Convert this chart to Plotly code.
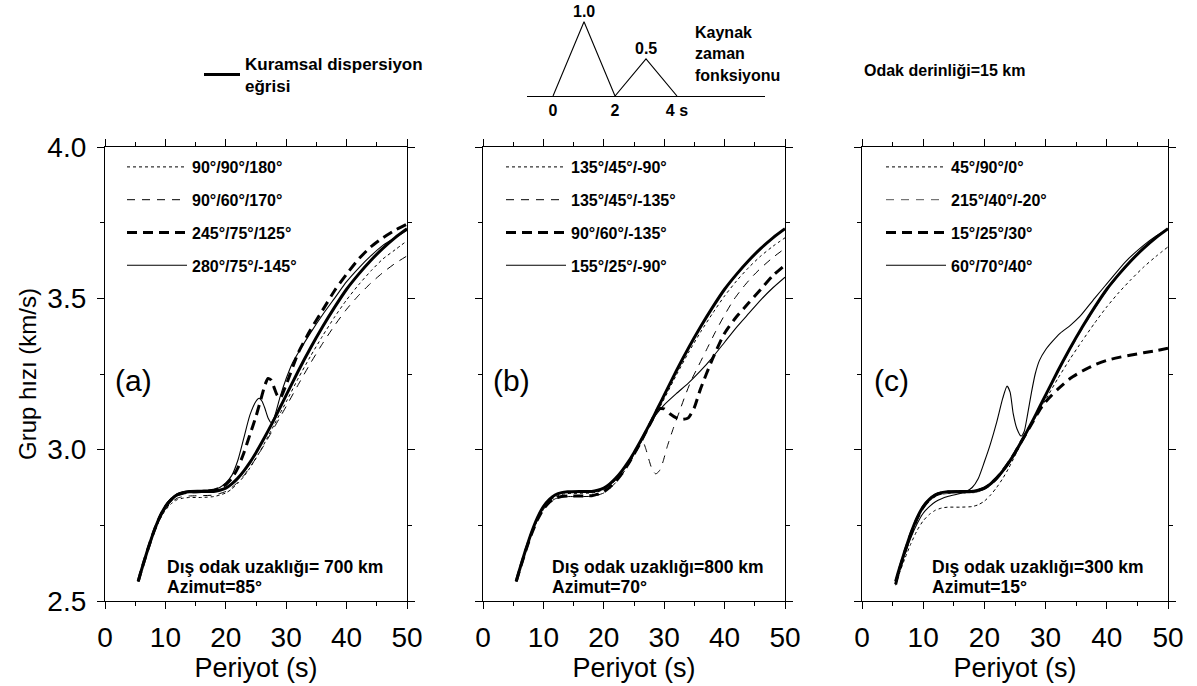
import plotly.graph_objects as go

# ---------------------------------------------------------------
# Kuramsal dispersiyon eğrisi (odak derinliği 15 km), period in s
# ---------------------------------------------------------------
ref_period = [5.5, 6, 7, 8, 9, 10, 11, 12, 13, 14, 16, 18, 19, 20, 21, 22, 23, 24, 25,
              26, 27, 28, 29, 30, 32, 34, 36, 38, 40, 42, 44, 46, 48, 50]
ref_velocity = [2.565, 2.60, 2.665, 2.725, 2.775, 2.812, 2.836, 2.851, 2.858, 2.861, 2.862,
                2.862, 2.866, 2.873, 2.887, 2.906, 2.93, 2.958, 2.99, 3.025, 3.062, 3.10,
                3.14, 3.18, 3.26, 3.335, 3.405, 3.47, 3.53, 3.58, 3.625, 3.665, 3.70, 3.73]

# ---------------- (a) 700 km, azimut 85° ----------------
a_names = ["90°/90°/180°", "90°/60°/170°", "245°/75°/125°", "280°/75°/-145°"]
a1_period = ref_period
a1_velocity = [2.565, 2.598, 2.66, 2.718, 2.766, 2.80, 2.822, 2.835, 2.84, 2.842, 2.842,
               2.845, 2.85, 2.857, 2.87, 2.889, 2.912, 2.94, 2.972, 3.006, 3.044, 3.082,
               3.12, 3.158, 3.236, 3.308, 3.375, 3.438, 3.495, 3.545, 3.59, 3.63, 3.66, 3.69]
a2_period = ref_period
a2_velocity = [2.565, 2.598, 2.662, 2.72, 2.768, 2.803, 2.826, 2.84, 2.845, 2.847, 2.848,
               2.85, 2.855, 2.862, 2.875, 2.893, 2.915, 2.942, 2.972, 3.004, 3.038, 3.073,
               3.108, 3.143, 3.215, 3.285, 3.35, 3.41, 3.464, 3.51, 3.55, 3.585, 3.615, 3.64]
a3_period = [5.5, 6, 7, 8, 9, 10, 11, 12, 13, 14, 16, 18, 19, 20, 21, 22, 23, 24, 25, 26,
             26.5, 27, 27.5, 28, 28.5, 29, 30, 32, 34, 36, 38, 40, 42, 44, 46, 48, 50]
a3_velocity = [2.565, 2.60, 2.665, 2.725, 2.775, 2.812, 2.836, 2.851, 2.857, 2.86, 2.862,
               2.866, 2.873, 2.885, 2.905, 2.94, 2.99, 3.05, 3.11, 3.18, 3.215, 3.235, 3.23,
               3.205, 3.18, 3.17, 3.215, 3.32, 3.395, 3.46, 3.525, 3.58, 3.63, 3.67, 3.70,
               3.725, 3.745]
a4_period = [5.5, 6, 7, 8, 9, 10, 11, 12, 13, 14, 16, 18, 19, 20, 21, 22, 23, 24, 25, 25.5,
             26, 26.5, 27, 27.5, 28, 29, 30, 31, 32, 34, 36, 38, 40, 42, 44, 46, 48, 50]
a4_velocity = [2.565, 2.602, 2.668, 2.728, 2.778, 2.815, 2.84, 2.855, 2.862, 2.865, 2.866,
               2.868, 2.875, 2.89, 2.915, 2.965, 3.04, 3.115, 3.16, 3.17, 3.16, 3.135, 3.105,
               3.09, 3.105, 3.175, 3.235, 3.285, 3.32, 3.385, 3.445, 3.50, 3.555, 3.60, 3.64,
               3.675, 3.70, 3.725]

# ---------------- (b) 800 km, azimut 70° ----------------
b_names = ["135°/45°/-90°", "135°/45°/-135°", "90°/60°/-135°", "155°/25°/-90°"]
b1_period = ref_period
b1_velocity = [2.565, 2.598, 2.662, 2.72, 2.77, 2.806, 2.83, 2.845, 2.852, 2.855, 2.856,
               2.857, 2.861, 2.868, 2.882, 2.90, 2.924, 2.952, 2.984, 3.018, 3.055, 3.092,
               3.13, 3.168, 3.246, 3.32, 3.388, 3.45, 3.508, 3.558, 3.602, 3.64, 3.672, 3.70]
b2_period = [5.5, 6, 7, 8, 9, 10, 11, 12, 13, 14, 16, 18, 19, 20, 21, 22, 23, 24, 25, 26,
             26.5, 27, 27.5, 28, 28.6, 29.2, 29.8, 30.5, 31.5, 32.5, 33.5, 34.5, 35.5, 37,
             38.5, 40, 41.5, 43, 44.5, 46, 48, 50]
b2_velocity = [2.565, 2.598, 2.66, 2.718, 2.766, 2.802, 2.825, 2.838, 2.843, 2.845, 2.845,
               2.846, 2.85, 2.857, 2.872, 2.892, 2.917, 2.947, 2.98, 3.015, 3.025, 3.0,
               2.965, 2.935, 2.92, 2.93, 2.96, 3.01, 3.07, 3.125, 3.18, 3.23, 3.27, 3.33,
               3.39, 3.445, 3.495, 3.535, 3.57, 3.60, 3.635, 3.665]
b3_period = [5.5, 6, 7, 8, 9, 10, 11, 12, 13, 14, 16, 18, 19, 20, 21, 22, 23, 24, 25, 26,
             27, 28, 29, 30, 31, 32, 33, 34, 35, 36, 38, 40, 42, 44, 46, 48, 50]
b3_velocity = [2.565, 2.598, 2.662, 2.72, 2.768, 2.804, 2.827, 2.84, 2.845, 2.847, 2.847,
               2.848, 2.853, 2.861, 2.876, 2.896, 2.921, 2.951, 2.985, 3.021, 3.06, 3.098,
               3.135, 3.135, 3.118, 3.105, 3.10, 3.105, 3.14, 3.20, 3.30, 3.385, 3.44,
               3.485, 3.53, 3.575, 3.61]
b4_period = ref_period
b4_velocity = [2.565, 2.60, 2.665, 2.725, 2.775, 2.812, 2.836, 2.851, 2.858, 2.861, 2.862,
               2.862, 2.866, 2.873, 2.887, 2.906, 2.93, 2.958, 2.99, 3.025, 3.062, 3.098,
               3.125, 3.148, 3.185, 3.22, 3.26, 3.305, 3.355, 3.405, 3.45, 3.495, 3.535, 3.57]

# ---------------- (c) 300 km, azimut 15° ----------------
c_names = ["45°/90°/0°", "215°/40°/-20°", "15°/25°/30°", "60°/70°/40°"]
c1_period = ref_period
c1_velocity = [2.552, 2.585, 2.64, 2.69, 2.733, 2.765, 2.786, 2.80, 2.807, 2.81, 2.81,
               2.812, 2.818, 2.83, 2.85, 2.875, 2.905, 2.94, 2.98, 3.02, 3.058, 3.095, 3.13,
               3.165, 3.235, 3.30, 3.36, 3.418, 3.472, 3.52, 3.563, 3.603, 3.638, 3.67]
c2_period = ref_period
c2_velocity = [2.558, 2.594, 2.66, 2.72, 2.77, 2.806, 2.83, 2.845, 2.852, 2.855, 2.856,
               2.857, 2.861, 2.868, 2.882, 2.901, 2.925, 2.953, 2.985, 3.02, 3.057, 3.095,
               3.135, 3.175, 3.255, 3.33, 3.40, 3.465, 3.525, 3.576, 3.622, 3.662, 3.698, 3.728]
c3_period = [5.5, 6, 7, 8, 9, 10, 11, 12, 13, 14, 16, 18, 19, 20, 21, 22, 23, 24, 25, 26,
             27, 28, 29, 30, 31, 32, 34, 36, 38, 40, 42, 44, 46, 48, 50]
c3_velocity = [2.555, 2.595, 2.662, 2.722, 2.772, 2.81, 2.834, 2.85, 2.857, 2.86, 2.861,
               2.862, 2.866, 2.873, 2.887, 2.906, 2.93, 2.958, 2.99, 3.025, 3.06, 3.095,
               3.13, 3.158, 3.18, 3.20, 3.235, 3.26, 3.28, 3.295, 3.305, 3.313, 3.32, 3.327,
               3.335]
c4_period = [5.5, 6, 7, 8, 9, 10, 11, 12, 13, 14, 16, 17, 18, 19, 20, 21, 22, 23, 23.7,
             24.2, 24.7, 25.3, 26, 26.5, 27, 27.7, 28.3, 29, 30, 31, 32.4, 34, 35.6, 38,
             40.5, 43, 46, 48, 50]
c4_velocity = [2.555, 2.59, 2.655, 2.71, 2.755, 2.79, 2.812, 2.828, 2.838, 2.845, 2.855,
               2.862, 2.875, 2.905, 2.96, 3.02, 3.09, 3.17, 3.21, 3.19, 3.12, 3.07, 3.045,
               3.06, 3.11, 3.19, 3.25, 3.295, 3.33, 3.355, 3.385, 3.41, 3.44, 3.50, 3.56,
               3.62, 3.675, 3.705, 3.73]

panel_tags = ["(a)", "(b)", "(c)"]
panel_distance_text = ["Dış odak uzaklığı= 700 km", "Dış odak uzaklığı=800 km",
                       "Dış odak uzaklığı=300 km"]
panel_azimuth = [85, 70, 15]

# Kaynak zaman fonksiyonu
source_time = [0, 1, 2, 3, 4]
source_amplitude = [0.0, 1.0, 0.0, 0.5, 0.0]
source_ticks = [0, 2, 4]
source_tick_text = ["0", "2", "4 s"]
source_caption = ["Kaynak", "zaman", "fonksiyonu"]

FONT = "Arial, Liberation Sans, sans-serif"

# line styles for the four mechanisms of each panel
styles = [
    dict(color="black", width=1.0, dash="3px,3px"),
    dict(color="black", width=1.0, dash="8px,7px"),
    dict(color="black", width=3.0, dash="10px,6px"),
    dict(color="black", width=1.1),
]
c_styles = [
    dict(color="black", width=1.0, dash="3px,3px"),
    dict(color="#555555", width=1.0, dash="8px,7px"),
    dict(color="black", width=3.0, dash="10px,6px"),
    dict(color="black", width=1.1),
]

panels = [
    ("x", "y", "legend", a_names,
     [(a1_period, a1_velocity), (a2_period, a2_velocity),
      (a3_period, a3_velocity), (a4_period, a4_velocity)], styles),
    ("x2", "y2", "legend2", b_names,
     [(b1_period, b1_velocity), (b2_period, b2_velocity),
      (b3_period, b3_velocity), (b4_period, b4_velocity)], styles),
    ("x3", "y3", "legend3", c_names,
     [(c1_period, c1_velocity), (c2_period, c2_velocity),
      (c3_period, c3_velocity), (c4_period, c4_velocity)], c_styles),
]

fig = go.Figure()

for p, (xa, ya, leg, names, curves, stl) in enumerate(panels):
    for k, ((per, vel), name) in enumerate(zip(curves, names)):
        fig.add_trace(go.Scatter(
            x=per, y=vel, mode="lines", name=name,
            line=dict(shape="spline", smoothing=0.6, **stl[k]),
            xaxis=xa, yaxis=ya, legend=leg, legendgroup=f"{leg}_{k}",
            showlegend=True,
        ))
    # theoretical dispersion curve, listed once in the top legend
    fig.add_trace(go.Scatter(
        x=ref_period, y=ref_velocity, mode="lines",
        name="Kuramsal dispersiyon<br>eğrisi",
        line=dict(color="black", width=3.0, shape="spline", smoothing=0.6),
        xaxis=xa, yaxis=ya, legend="legend4", showlegend=(p == 0),
    ))

# source time function
fig.add_trace(go.Scatter(
    x=source_time, y=source_amplitude, mode="lines",
    line=dict(color="black", width=1.1), xaxis="x4", yaxis="y4", showlegend=False,
))

W, H = 1197, 686
y_dom = [1 - 601 / H, 1 - 147 / H]
x_doms = [[105 / W, 407 / W], [483 / W, 785 / W], [862 / W, 1168 / W]]

axis_common = dict(
    showline=True, linecolor="black", linewidth=1.3, mirror="ticks",
    ticks="outside", ticklen=7, tickwidth=1.2, tickcolor="black",
    showgrid=False, zeroline=False, automargin=False,
    tickfont=dict(family=FONT, size=28, color="black"),
)

layout = dict(
    template="none",
    width=W, height=H, margin=dict(l=0, r=0, t=0, b=0, autoexpand=False),
    paper_bgcolor="white", plot_bgcolor="white",
    font=dict(family=FONT, color="black"),
)

for i, (xa, ya) in enumerate([("xaxis", "yaxis"), ("xaxis2", "yaxis2"), ("xaxis3", "yaxis3")]):
    layout[xa] = dict(
        axis_common, domain=x_doms[i], range=[0, 50], dtick=10, tick0=0,
        anchor=["y", "y2", "y3"][i], ticklabelstandoff=4,
        minor=dict(dtick=5, ticklen=4, ticks="outside", tickcolor="black", showgrid=False),
        title=dict(text="Periyot (s)", font=dict(family=FONT, size=27), standoff=0),
    )
    layout[ya] = dict(
        axis_common, domain=y_dom, range=[2.5, 4.0], dtick=0.5, tick0=2.5,
        tickformat=".1f", anchor=["x", "x2", "x3"][i], showticklabels=(i == 0),
        ticklabelstandoff=5,
        minor=dict(dtick=0.25, ticklen=4, ticks="outside", tickcolor="black", showgrid=False),
    )
layout["yaxis"]["title"] = dict(text="Grup hızı (km/s)", font=dict(family=FONT, size=24),
                                standoff=3)

layout["xaxis4"] = dict(
    domain=[527 / W, 765 / W], range=[-0.84, 6.84], anchor="y4", automargin=False,
    showline=True, linecolor="black", linewidth=1.3, showgrid=False, zeroline=False,
    ticks="", tickvals=source_ticks, ticktext=source_tick_text,
    tickfont=dict(family=FONT, size=16, color="black", weight="bold"),
)
layout["yaxis4"] = dict(domain=[1 - 96 / H, 1 - 7 / H], range=[0, 1.2], anchor="x4",
                        visible=False, automargin=False)

legend_font = dict(family=FONT, size=16, color="black", weight="bold")
for key, left in [("legend", 122), ("legend2", 501), ("legend3", 881)]:
    layout[key] = dict(
        x=left / W, y=1 - 150 / H, xanchor="left", yanchor="top",
        bgcolor="rgba(0,0,0,0)", borderwidth=0, itemwidth=60,
        tracegroupgap=9, font=legend_font, itemclick=False,
    )
layout["legend4"] = dict(
    x=199 / W, y=1 - 46 / H, xanchor="left", yanchor="top",
    bgcolor="rgba(0,0,0,0)", borderwidth=0, itemwidth=36,
    font=dict(family=FONT, size=17, color="black", weight="bold"),
)

annotations = []
for i, (xr, yr) in enumerate([("x", "y"), ("x2", "y2"), ("x3", "y3")]):
    annotations.append(dict(
        text=panel_tags[i], xref=f"{xr} domain", yref=f"{yr} domain",
        x=[0.095, 0.096, 0.098][i], y=0.485, showarrow=False,
        font=dict(family=FONT, size=30), xanchor="center", yanchor="middle",
    ))
    annotations.append(dict(
        text=panel_distance_text[i], xref=f"{xr} domain", yref=f"{yr} domain",
        x=[0.2, 0.222, 0.222][i], y=0.075, showarrow=False,
        font=dict(family=FONT, size=17.5, weight="bold"), xanchor="left", yanchor="middle",
    ))
    annotations.append(dict(
        text=f"Azimut={panel_azimuth[i]}°", xref=f"{xr} domain", yref=f"{yr} domain",
        x=[0.2, 0.222, 0.222][i], y=0.031, showarrow=False,
        font=dict(family=FONT, size=17.5, weight="bold"), xanchor="left", yanchor="middle",
    ))

# amplitude labels on the source triangles
for t, amp in zip(source_time, source_amplitude):
    if amp > 0:
        annotations.append(dict(
            text=f"{amp:.1f}", x=t, y=amp, xref="x4", yref="y4", showarrow=False,
            yanchor="bottom", yshift=0,
            font=dict(family=FONT, size=16, weight="bold"),
        ))
for j, word in enumerate(source_caption):
    annotations.append(dict(
        text=word, x=693 / W, y=1 - (33 + 21 * j) / H, xref="paper", yref="paper",
        showarrow=False, xanchor="left", yanchor="middle",
        font=dict(family=FONT, size=16, weight="bold"),
    ))
annotations.append(dict(
    text="Odak derinliği=15 km", x=862 / W, y=1 - 70 / H, xref="paper", yref="paper",
    showarrow=False, xanchor="left", yanchor="middle",
    font=dict(family=FONT, size=16, weight="bold"),
))
layout["annotations"] = annotations

fig.update_layout(**layout)
fig.write_html("out.html")
